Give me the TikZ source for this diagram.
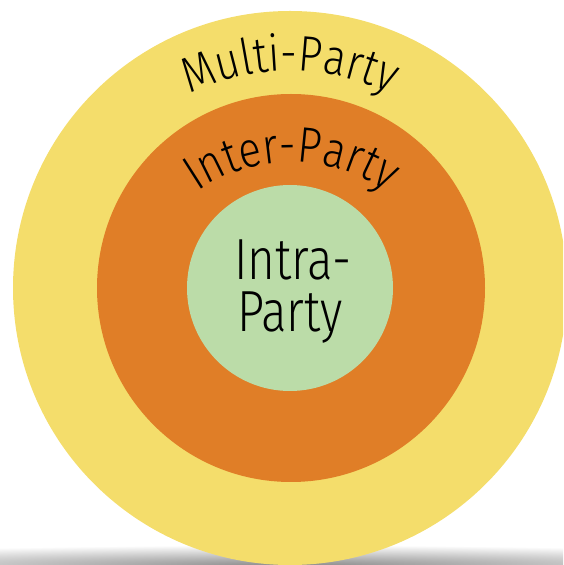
\documentclass[tikz,border=0pt]{standalone}
\usepackage{fontspec}
\usetikzlibrary{decorations.text}
\newfontfamily\lblfont{Fira Sans Light}[FakeStretch=0.84]
\newfontfamily\lblcond{Fira Sans Light}[FakeStretch=0.82]
\definecolor{yel}{RGB}{244,221,107}
\definecolor{ora}{RGB}{224,126,39}
\definecolor{grn}{RGB}{187,220,168}
\tikzset{
  ring/.style={circle, inner sep=0pt, outer sep=0pt, draw=none},
  arclabel/.style={decorate, decoration={text along path, text align=center,
     text={|\lblfont\fontsize{50}{50}\selectfont|#1}}},
  corelabel/.style={anchor=base, inner sep=0pt, font=\lblcond\fontsize{58}{58}\selectfont}
}
\begin{document}
\begin{tikzpicture}[x=1pt,y=1pt]
\useasboundingbox (0,0) rectangle (563,565);
\begin{scope}
  \clip (0,0) rectangle (563,565);
  \shade[inner color=black!45, outer color=white] (290,0) ellipse [x radius=580, y radius=20];
  \node[ring, fill=yel, minimum size=554pt] (multi) at (290,277) {};
\end{scope}
\node[ring, fill=ora, minimum size=388pt] (inter) at (291,277) {};
\node[ring, fill=grn, minimum size=206pt] (intra) at (290,277) {};
\path[arclabel={Multi-Party}] (290,260) ++(160:234) arc[start angle=160, end angle=20, radius=234];
\path[arclabel={Inter-Party}] (292,236) ++(160:167) arc[start angle=160, end angle=20, radius=167];
\node[corelabel] (intraA) at (293,285) {Intra-};
\node[corelabel] (intraB) at (290,233) {Party};
\end{tikzpicture}
\end{document}
